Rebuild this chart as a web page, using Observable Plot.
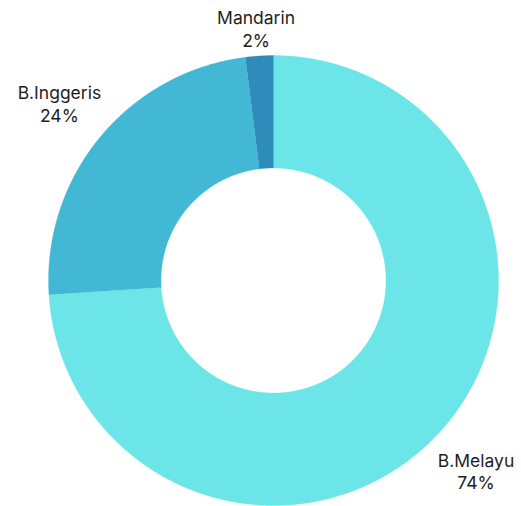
<!DOCTYPE html>
<html><head><meta charset="utf-8">
<script src="https://cdn.jsdelivr.net/npm/d3@7"></script>
<script src="https://cdn.jsdelivr.net/npm/@observablehq/plot@0.6"></script>
<style>html,body{margin:0;padding:0;background:#fff}</style>
</head><body><div id="chart"></div>
<script>
// Data
const languages = ["B.Melayu", "B.Inggeris", "Mandarin"];
const shares = [74, 24, 2];
const colors = ["#6be5e8", "#43b8d5", "#2e8bba"];

// Layout
const W = 521, H = 506;
const cx = 273, cy = 280, R = 225;      // centre & outer radius (px)
const innerRatio = 0.5;
const labelRatio = 1.235;
const labelTopPx = 28;                   // keep labels inside the view

const pie = d3.pie().sort(null).value(d => d)(shares);

// Build ring polygons in unit coordinates (outer radius = 1, y up)
const ring = [];
pie.forEach((p, i) => {
  const n = Math.max(2, Math.ceil((p.endAngle - p.startAngle) / 0.004));
  for (let k = 0; k <= n; k++) {
    const a = p.startAngle + (p.endAngle - p.startAngle) * k / n;
    ring.push({lang: languages[i], x: Math.sin(a), y: Math.cos(a)});
  }
  for (let k = n; k >= 0; k--) {
    const a = p.startAngle + (p.endAngle - p.startAngle) * k / n;
    ring.push({lang: languages[i], x: innerRatio * Math.sin(a), y: innerRatio * Math.cos(a)});
  }
});

const yMaxLabel = (cy - labelTopPx) / R;
const labels = pie.map((p, i) => {
  const a = (p.startAngle + p.endAngle) / 2;
  return {
    x: labelRatio * Math.sin(a),
    y: Math.min(labelRatio * Math.cos(a), yMaxLabel),
    text: `${languages[i]}\n${shares[i]}%`
  };
});

const chart = Plot.plot({
  width: W, height: H,
  margin: 0,
  style: {fontFamily: "Inter, sans-serif", background: "#fff"},
  x: {domain: [-cx / R, (W - cx) / R], axis: null},
  y: {domain: [-(H - cy) / R, cy / R], axis: null},
  color: {domain: languages, range: colors},
  marks: [
    Plot.line(ring, {x: "x", y: "y", z: "lang", fill: "lang", stroke: "lang", strokeWidth: 0.3}),
    Plot.text(labels, {x: "x", y: "y", text: "text", fontSize: 17.5, lineHeight: 1.3, fill: "#1e1e1e", textAnchor: "middle"})
  ]
});
document.getElementById("chart").append(chart);
</script>
</body></html>
